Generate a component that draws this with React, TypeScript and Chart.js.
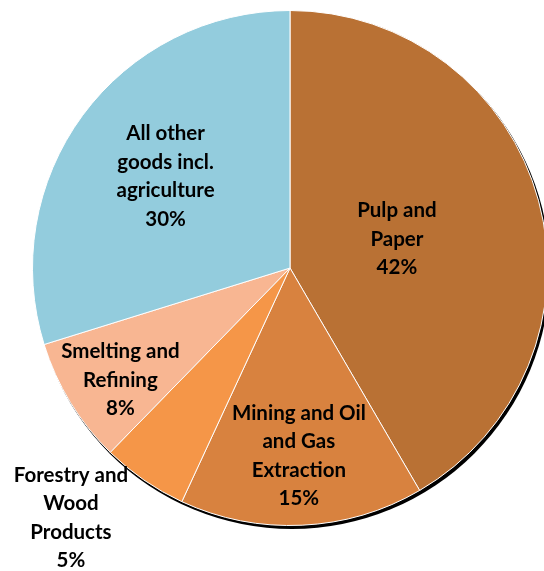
import React, { useEffect, useRef } from "react";
import { Chart, registerables } from "chart.js";

Chart.register(...registerables);

const categories: string[][] = [
  ["Pulp and", "Paper"],
  ["Mining and Oil", "and Gas", "Extraction"],
  ["Forestry and", "Wood", "Products"],
  ["Smelting and", "Refining"],
  ["All other", "goods incl.", "agriculture"],
];
const shares: number[] = [41.6, 15.3, 5.4, 7.9, 29.8];
const sliceColors: string[] = ["#B97134", "#D8823F", "#F59648", "#F8B692", "#93CCDD"];
// label placement relative to the arc: fraction of radius and angular shift (deg)
const labelRadius: number[] = [0.43, 0.73, 1.29, 0.79, 0.6];
const labelShift: number[] = [0, 0, 6.7, -2, 0];

const FONT = "bold 20.5px Lato, 'Open Sans', sans-serif";
const LINE_H = 28.5;

const labelPlugin = {
  id: "sliceLabels",
  beforeDatasetsDraw(chart: any) {
    const meta = chart.getDatasetMeta(0);
    const a = meta.data[0];
    if (!a) return;
    const ctx = chart.ctx;
    ctx.save();
    ctx.fillStyle = "#000";
    ctx.beginPath();
    ctx.arc(a.x + 2, a.y + 3, a.outerRadius + 0.5, 0, Math.PI * 2);
    ctx.fill();
    ctx.restore();
  },
  afterDatasetsDraw(chart: any) {
    const meta = chart.getDatasetMeta(0);
    const ctx = chart.ctx;
    ctx.save();
    ctx.font = FONT;
    ctx.fillStyle = "#000";
    ctx.textAlign = "center";
    ctx.textBaseline = "middle";
    meta.data.forEach((arc: any, i: number) => {
      const mid = (arc.startAngle + arc.endAngle) / 2 + (labelShift[i] * Math.PI) / 180;
      const r = arc.outerRadius * labelRadius[i];
      const x = arc.x + Math.cos(mid) * r;
      const y = arc.y + Math.sin(mid) * r;
      const lines = [...categories[i], Math.round(shares[i]) + "%"];
      const top = y - ((lines.length - 1) * LINE_H) / 2;
      lines.forEach((ln, k) => ctx.fillText(ln, x, top + k * LINE_H));
    });
    ctx.restore();
  },
};

export default function App() {
  const ref = useRef<HTMLCanvasElement>(null);
  useEffect(() => {
    if (!ref.current) return;
    const chart = new Chart(ref.current, {
      type: "pie",
      data: {
        labels: categories.map((c) => c.join(" ")),
        datasets: [
          {
            data: shares,
            backgroundColor: sliceColors,
            borderColor: "#FFFFFF",
            borderWidth: 1,
          },
        ],
      },
      options: {
        responsive: false,
        animation: false,
        layout: { padding: { left: 32, top: 10, right: 12, bottom: 45 } },
        plugins: {
          legend: { display: false },
          tooltip: { enabled: false },
        },
      },
      plugins: [labelPlugin],
    });
    return () => chart.destroy();
  }, []);
  return (
    <div
      style={{
        position: "fixed",
        left: 0,
        top: 0,
        width: 544,
        height: 571,
        overflow: "hidden",
        background: "#fff",
      }}
    >
      <canvas ref={ref} width={560} height={571} style={{ display: "block" }} />
    </div>
  );
}
